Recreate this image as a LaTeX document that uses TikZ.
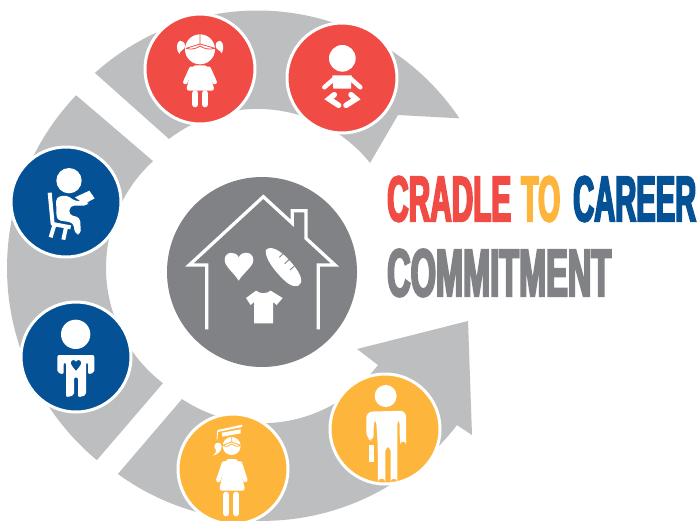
\documentclass[tikz,border=0pt]{standalone}
\usepackage{graphicx}
\usepackage{fontspec}
\newfontfamily\condfont[UprightFont=* Bold,FakeStretch=0.5,FakeBold=3]{Liberation Sans}
\definecolor{redc}{HTML}{F04C45}
\definecolor{bluec}{HTML}{045196}
\definecolor{yelc}{HTML}{FDB53C}
\definecolor{ringc}{HTML}{BCBEC0}
\definecolor{darkc}{HTML}{808285}
\newcommand{\fit}[3]{\resizebox{#1pt}{#2pt}{\condfont #3}}
\tikzset{
  ring/.style={fill=ringc},
  badge/.style={circle,draw=white,line width=3pt,minimum size=110pt,inner sep=0pt},
  zm/.style 2 args={x=.33333pt,y=-.33333pt,shift={(#1pt,-#2pt)}},
  limb/.style={draw=white,line cap=round,line join=round},
  title/.style={inner sep=0pt,anchor=south west}
}
\begin{document}
\begin{tikzpicture}[x=1pt,y=-1pt]
\clip (0,0) rectangle (700,520);
\fill[white] (0,0) rectangle (700,520);
% ring segments
\fill[ring] plot[domain=228:326.2,samples=60] ({257.5+243*cos(\x)},{253.5+243*sin(\x)}) -- (398,115) -- (370,163) -- plot[domain=321.2:232.4,samples=60] ({257.3+144.7*cos(\x)},{253.6+144.7*sin(\x)}) -- cycle;
\fill[ring] plot[domain=223.6:129.9,samples=60] ({257.5+250.5*cos(\x)},{268+250.5*sin(\x)}) -- plot[domain=127.4:227.5,samples=60] ({251+145*cos(\x)},{268+145*sin(\x)}) -- cycle;
\fill[ring] plot[domain=126:37.6,samples=60] ({262.3+245.7*cos(\x)},{275.2+245.7*sin(\x)}) -- (472,435) -- (468,321) -- (357,349) -- (378,365) -- plot[domain=36.7:123.6,samples=60] ({262+144.6*cos(\x)},{278.6+144.6*sin(\x)}) -- cycle;
% badges
\node[badge,fill=redc] (girl) at (200,69) {};
\node[badge,fill=redc] (baby) at (342,78) {};
\node[badge,fill=bluec] (reader) at (66,202) {};
\node[badge,fill=bluec] (boy) at (76,357) {};
\node[badge,fill=yelc] (grad) at (233,469) {};
\node[badge,fill=yelc] (man) at (385,429) {};
\node[circle,fill=darkc,minimum size=190pt,inner sep=0pt] (home) at (262,272) {};
% girl
\begin{scope}[zm={90}{0}]
\fill[white] (330,148) circle (45);
\draw[redc,line width=.8pt] (330,102) -- (330,132) (288,145) -- (330,132) -- (375,145)
  (288,145) .. controls (305,150) and (318,146) .. (330,138) .. controls (342,146) and (358,150) .. (375,145);
\fill[white] (270,122) .. controls (258,128) and (258,148) .. (268,162) .. controls (270,150) and (285,150) .. (285,138) .. controls (285,128) and (278,122) .. (270,122) -- cycle;
\fill[white] (390,122) .. controls (402,128) and (402,148) .. (395,160) .. controls (392,150) and (377,150) .. (377,138) .. controls (377,128) and (382,122) .. (390,122) -- cycle;
\fill[white,rounded corners=3pt] (308,196) -- (352,196) -- (374,272) -- (288,272) -- cycle;
\draw[limb,line width=4.5pt] (304,206) -- (286,246) (356,206) -- (374,246);
\draw[limb,line width=6pt] (316,280) -- (316,313) (345,280) -- (345,313);
\end{scope}
% baby
\begin{scope}[zm={90}{0}]
\fill[white] (757,175) circle (40);
\fill[white] (727,226) -- (785,226) -- (783,266) -- (730,266) -- cycle;
\draw[limb,line width=4.5pt] (735,234) -- (703,262) (780,234) -- (811,262);
\draw[limb,line width=5.5pt,line join=miter] (733,284) -- (717,297) -- (746,316) (783,284) -- (798,297) -- (768,316);
\end{scope}
% reader
\begin{scope}[zm={0}{140}]
\fill[white] (207,122) circle (38);
\fill[white,rounded corners=4pt] (168,172) -- (200,165) -- (226,184) -- (264,182) -- (264,197) -- (210,197) -- (207,225) -- (240,232) -- (243,283) -- (225,283) -- (220,248) -- (170,240) -- cycle;
\fill[white] (225,172) -- (268,152) -- (284,175) -- (262,187) -- (240,183) -- cycle;
\draw[limb,line width=4pt,line cap=butt] (149,158) -- (158,252) -- (212,262);
\draw[limb,line width=4pt,line cap=butt] (163,255) -- (152,292) (198,262) -- (190,299);
\end{scope}
% boy with heart
\begin{scope}[zm={0}{140}]
\fill[white] (227,583) circle (44);
\fill[white,rounded corners=2pt] (172,645) -- (283,645) -- (283,698) -- (264,703) -- (264,668) -- (258,668) -- (258,766) -- (234,772) -- (234,712) -- (222,712) -- (222,766) -- (198,772) -- (198,668) -- (191,668) -- (191,703) -- (172,698) -- cycle;
\fill[bluec] (228,692) .. controls (220,682) and (212,674) .. (213,667) .. controls (214,659) and (225,658) .. (228,666) .. controls (231,658) and (242,659) .. (243,667) .. controls (244,674) and (236,682) .. (228,692) -- cycle;
\end{scope}
% graduate
\begin{scope}[zm={110}{310}]
\fill[white] (365,408) circle (27);
\draw[yelc,line width=.8pt] (365,378) -- (365,396) (338,406) -- (365,396) -- (392,406)
 (338,406) .. controls (350,412) and (358,408) .. (365,402) .. controls (372,408) and (382,412) .. (392,406);
\fill[white] (323,360) -- (396,344) -- (396,351) -- (323,366) -- cycle;
\fill[white] (336,368) -- (392,358) -- (392,370) -- (337,380) -- cycle;
\draw[white,line width=.8pt] (323,362) -- (321,388);
\fill[white] (325,398) .. controls (315,398) and (308,410) .. (318,420) .. controls (320,425) and (316,432) .. (308,437) .. controls (322,435) and (335,422) .. (335,410) .. controls (335,403) and (331,398) .. (325,398) -- cycle;
\fill[white,rounded corners=3pt] (348,447) -- (383,447) -- (406,542) -- (327,542) -- cycle;
\draw[limb,line width=4.5pt] (342,460) -- (325,510) (390,460) -- (406,510);
\draw[limb,line width=6pt] (349,554) -- (349,610) (379,554) -- (379,610);
\end{scope}
% man
\begin{scope}[zm={110}{310}]
\fill[white] (827,258) circle (33);
\fill[white,rounded corners=6pt] (769,385) -- (769,305) -- (888,302) -- (888,385) .. controls (888,392) and (870,392) .. (869,385) -- (869,325) -- (862,325) -- (862,497) .. controls (862,503) and (842,503) .. (842,497) -- (842,408) -- (826,408) -- (826,497) .. controls (826,503) and (804,503) .. (804,497) -- (803,400) -- (798,325) -- (792,325) -- (790,395) -- cycle;
\fill[white] (776,404) rectangle (792,456);
\end{scope}
% house
\begin{scope}[zm={160}{170}]
\draw[white,line width=3.3pt,line join=miter] (140,478) -- (140,285) -- (88,285) -- (310,80) -- (397,160) -- (397,122) -- (438,122) -- (438,205) -- (525,285) -- (475,285) -- (475,478);
\fill[white] (236,332) .. controls (222,308) and (194,290) .. (194,270) .. controls (194,243) and (228,242) .. (236,262) .. controls (244,242) and (280,243) .. (280,270) .. controls (280,290) and (250,308) .. (236,332) -- cycle;
\fill[white] (318,240) .. controls (330,225) and (360,240) .. (385,268) .. controls (408,292) and (428,320) .. (423,338) .. controls (416,356) and (392,350) .. (372,330) .. controls (345,305) and (312,262) .. (318,240) -- cycle;
\draw[darkc,line width=.9pt] (358,262) -- (370,250) (374,281) -- (387,269) (390,300) -- (403,288);
\fill[white] (288,362) .. controls (300,372) and (320,372) .. (332,362) -- (368,384) -- (350,405) -- (339,396) -- (339,460) -- (282,460) -- (282,396) -- (272,405) -- (258,384) -- cycle;
\end{scope}
% titles
\node[title] (w1) at (387,222) {\fit{124}{45}{\textcolor{redc}{CRADLE}}};
\node[title] (w2) at (521,222) {\fit{39}{45}{\textcolor{yelc}{TO}}};
\node[title] (w3) at (573,222) {\fit{123}{45}{\textcolor{bluec}{CAREER}}};
\node[title] (w4) at (387,297) {\fit{224}{47}{\textcolor{darkc}{COMMITMENT}}};
\end{tikzpicture}
\end{document}
